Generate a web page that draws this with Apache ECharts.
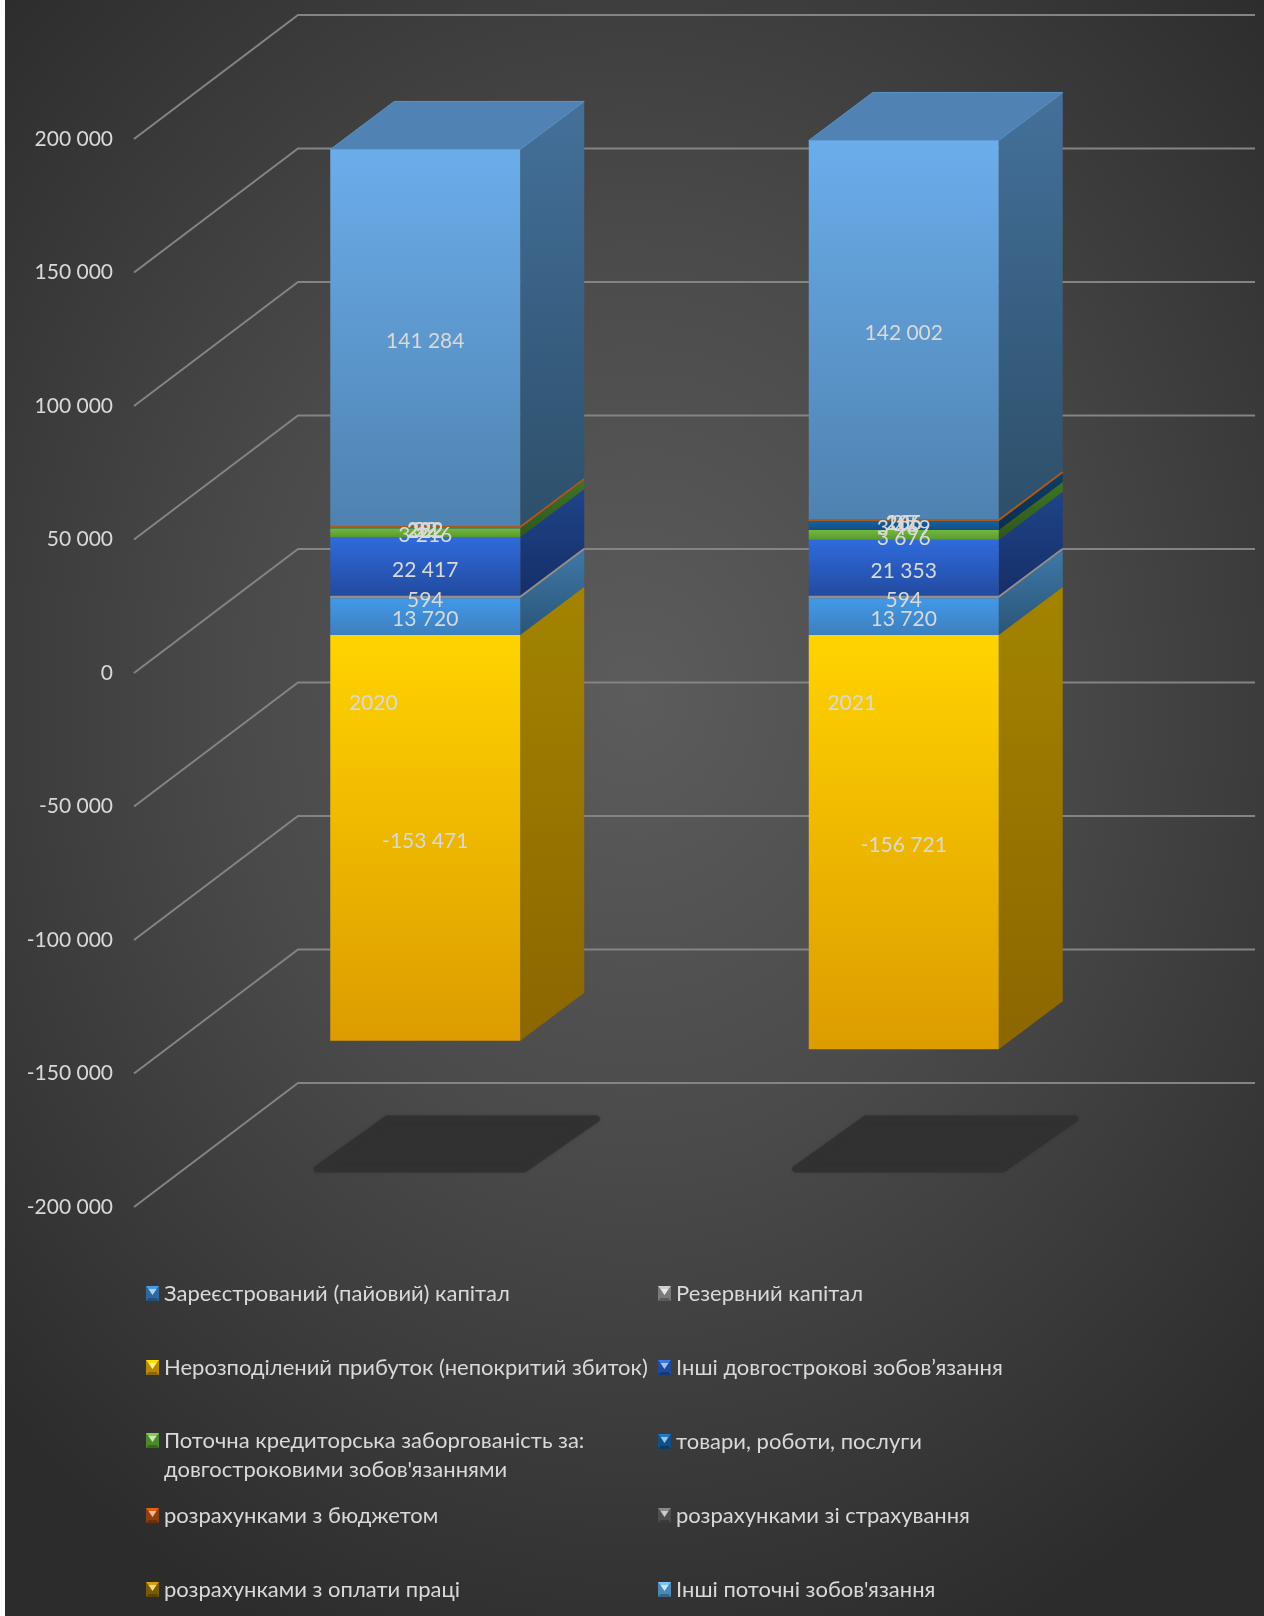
<!DOCTYPE html>
<html><head><meta charset="utf-8">
<style>
html,body{margin:0;padding:0;background:#fff;width:1264px;height:1616px;overflow:hidden}
#main{position:absolute;left:5px;top:0;width:1259px;height:1616px;
background:radial-gradient(ellipse 880px 1030px at 50% 43%,#5c5c5c 0%,#4a4a4a 45%,#2c2c2c 100%)}
</style>
<script src="https://cdn.jsdelivr.net/npm/echarts@6/dist/echarts.min.js"></script>
</head><body><div id="main"></div>
<script>
const categories = ['2020', '2021'];
const tickValues = [200000, 150000, 100000, 50000, 0, -50000, -100000, -150000, -200000];
const registeredCapital = [13720, 13720];
const reserveCapital = [594, 594];
const retainedEarnings = [-153471, -156721];
const otherLongTerm = [22417, 21353];
const currentLongTerm = [3216, 3676];
const goodsServices = [222, 3469];
const budgetPayments = [282, 266];
const insurancePayments = [32, 35];
const wagePayments = [92, 105];
const otherCurrent = [141284, 142002];

const FONT = 'Lato, "Noto Sans", sans-serif';
const TEXT = '#d9d9d9';
const DX = 64, DY = 48;              // box depth
const PLANE_X = 52, PLANE_Y = 38;    // bar plane behind the front of the floor
const WALL_X = 164, WALL_Y = 124;    // back wall offset
const BAR_W = 190;
const NEG_SCALE = 0.99;              // slight perspective shrink below zero
const LABEL_DROP = 3;

const seriesDefs = [
  {name:'Зареєстрований (пайовий) капітал', values:registeredCapital, c:['#4299e8','#3d7fbe','#3e78a8','#2a5578'], legend:[146,0,'#4a9be0','#2f68a0']},
  {name:'Резервний капітал', values:reserveCapital, edge:'#8f8f8f', c:['#a5a5a5','#8c8c8c','#6e6e6e','#5a5a5a'], legend:[658,0,'#cfcfcf','#7a7a7a']},
  {name:'Нерозподілений прибуток (непокритий збиток)', values:retainedEarnings, c:['#ffd300','#dc9c00','#a38400','#8c6600'], legend:[146,1,'#ffe000','#b98a00']},
  {name:'Інші довгострокові зобов’язання', values:otherLongTerm, c:['#2f6bdc','#224a9e','#1e4488','#162e68'], legend:[658,1,'#3f78e8','#1f4a9e']},
  {name:'Поточна кредиторська заборгованість за: довгостроковими зобов\'язаннями', values:currentLongTerm, c:['#72b83c','#5a9a30','#3f7426','#2e561c'], legend:[146,2,'#86d04a','#4b8a2a']},
  {name:'товари, роботи, послуги', values:goodsServices, c:['#17619f','#114f85','#0e3d66','#0b2e4e'], legend:[658,5,'#1f7ac8','#114f85']},
  {name:'розрахунками з бюджетом', values:budgetPayments, edge:'#a85a1c', c:['#c8581c','#a84a16','#7f3810','#6a2e0c'], legend:[146,3,'#e0601a','#8f3f10']},
  {name:'розрахунками зі страхування', values:insurancePayments, c:['#7a7a7a','#6a6a6a','#505050','#444444'], legend:[658,3,'#8a8a8a','#4e4e4e']},
  {name:'розрахунками з оплати праці', values:wagePayments, c:['#a47b00','#8c6900','#6a5000','#574100'], legend:[146,4,'#d8a010','#7a5c00']},
  {name:'Інші поточні зобов\'язання', values:otherCurrent, c:['#6badeb','#4e82b0','#44709a','#2d4f6a'], legend:[658,4,'#7cc4f5','#4d86b8']}
];
const LEGEND_ROWS = [1279, 1353, 1397, 1501, 1575, 1427];
const WRAP_NAME = seriesDefs[4].name;

function fmt(v){ return String(v).replace(/\B(?=(\d{3})+(?!\d))/g,' '); }
function vgrad(a,b){ return {type:'linear',x:0,y:0,x2:0,y2:1,colorStops:[{offset:0,color:a},{offset:1,color:b}]}; }
function iconUri(hi,lo){
  const svg = '<svg xmlns="http://www.w3.org/2000/svg" width="13" height="15">'
    + '<rect width="13" height="15" fill="'+lo+'"/>'
    + '<polygon points="0,0 13,0 10.5,3 6.5,9 2.5,3" fill="'+hi+'"/>'
    + '<polygon points="2.5,3 10.5,3 6.5,9" fill="#ffffff" fill-opacity="0.55"/>'
    + '<polygon points="0,15 13,15 10.5,12 2.5,12" fill="#000000" fill-opacity="0.25"/></svg>';
  return 'image://data:image/svg+xml;charset=utf-8,' + encodeURIComponent(svg);
}

function buildSegments(){
  const pos = categories.map(()=>0), neg = categories.map(()=>0);
  return seriesDefs.map(def => def.values.map((v,c)=>{
    const store = v>=0 ? pos : neg;
    const start = store[c], end = start+v;
    store[c] = end;
    return [c,start,end,v];
  }));
}
const segments = buildSegments();
const lastIndex = seriesDefs.length-1;

function boxItem(def, idx){
  return function(params, api){
    const c = api.value(0), a = api.value(1), b = api.value(2), v = api.value(3);
    const zeroY = api.coord([c,0])[1];
    const scaled = val => {
      const y = api.coord([c,val])[1];
      return (val<0 ? zeroY+(y-zeroY)*NEG_SCALE : y)-PLANE_Y;
    };
    const xc = api.coord([c,a])[0]+PLANE_X;
    const x0 = xc-BAR_W/2, x1 = x0+BAR_W;
    const ya = scaled(a), yb = scaled(b);
    const yTop = Math.min(ya,yb), yBot = Math.max(ya,yb);
    const kids = [
      {type:'polygon', z2:idx, shape:{points:[[x1,yTop],[x1+DX,yTop-DY],[x1+DX,yBot-DY],[x1,yBot]]},
        style:{fill:vgrad(def.c[2],def.c[3])}},
      {type:'rect', z2:idx+0.5, shape:{x:x0,y:yTop,width:BAR_W,height:yBot-yTop},
        style:{fill:vgrad(def.c[0],def.c[1])}}
    ];
    if(def.edge){
      kids.push({type:'polyline', z2:50, shape:{points:[[x0,yTop],[x1,yTop],[x1+DX,yTop-DY]]},
        style:{fill:'none', stroke:def.edge, lineWidth:2}});
    }
    if(idx===lastIndex){
      kids.push({type:'polygon', z2:idx, shape:{points:[[x0,yTop],[x0+DX,yTop-DY],[x1+DX,yTop-DY],[x1,yTop]]},
        style:{fill:'#5083b4', stroke:'#5a92c8', lineWidth:1, lineJoin:'round'}});
    }
    kids.push({type:'text', z2:100, style:{x:xc, y:(yTop+yBot)/2+LABEL_DROP, text:fmt(v), fill:TEXT,
      font:'21px '+FONT, align:'center', verticalAlign:'middle'}});
    return {type:'group', children:kids};
  };
}

function wallItem(params, api){
  const p = api.coord([0,api.value(1)]);
  const cs = params.coordSys;
  return {type:'polyline', z2:-10, shape:{points:[[cs.x,p[1]],[cs.x+WALL_X,p[1]-WALL_Y],[cs.x+cs.width+WALL_X,p[1]-WALL_Y]]},
    style:{fill:'none', stroke:'#848484', lineWidth:2}};
}
function shadowItem(params, api){
  const p = api.coord([api.value(0),-200000]);
  const x = p[0]+PLANE_X-BAR_W/2, y = p[1];
  return {type:'polygon', z2:-5, shape:{points:[[x-13,y-38],[x+194,y-38],[x+266,y-88],[x+57,y-88]]},
    style:{fill:'#313131', stroke:'#313131', lineWidth:7, lineJoin:'round', shadowBlur:3, shadowColor:'rgba(49,49,49,0.5)'}};
}

const series = [
  {type:'custom', name:'walls', silent:true, renderItem:wallItem, encode:{x:0,y:1}, data:tickValues.map(t=>[0,t]), z:1},
  {type:'custom', name:'floorShadow', silent:true, renderItem:shadowItem, encode:{x:0,y:1}, data:categories.map((_,i)=>[i,-200000]), z:1}
].concat(seriesDefs.map((def,i)=>({
  type:'custom', name:def.name, renderItem:boxItem(def,i), encode:{x:0,y:[1,2]}, data:segments[i], z:2,
  itemStyle:{color:def.c[0]}
})));

const legends = seriesDefs.map(def=>({
  left:def.legend[0]-5, top:LEGEND_ROWS[def.legend[1]], padding:0, itemWidth:13, itemHeight:15,
  selectedMode:false, orient:'horizontal',
  data:[{name:def.name, icon:iconUri(def.legend[2],def.legend[3])}],
  textStyle:{color:TEXT, fontFamily:FONT, fontSize:22, lineHeight:29},
  formatter:n=> n===WRAP_NAME ? '\nПоточна кредиторська заборгованість за:\nдовгостроковими зобов\'язаннями' : n
}));

const chart = echarts.init(document.getElementById('main'), null, {renderer:'canvas'});
chart.setOption({
  backgroundColor:'transparent', animation:false, tooltip:{show:false},
  grid:{left:129, right:173, top:139, bottom:409},
  legend:legends,
  xAxis:{type:'category', data:categories, position:'bottom', offset:-534, z:10, axisLine:{show:false,onZero:false}, axisTick:{show:false},
    axisLabel:{color:TEXT, fontFamily:FONT, fontSize:21, margin:20}, splitLine:{show:false}},
  yAxis:{type:'value', min:-200000, max:200000, interval:50000, axisLine:{show:false}, axisTick:{show:false}, splitLine:{show:false},
    axisLabel:{color:TEXT, fontFamily:FONT, fontSize:21, margin:21, padding:[3,0,0,0], formatter:v=>fmt(v)}},
  series:series
});
</script></body></html>
